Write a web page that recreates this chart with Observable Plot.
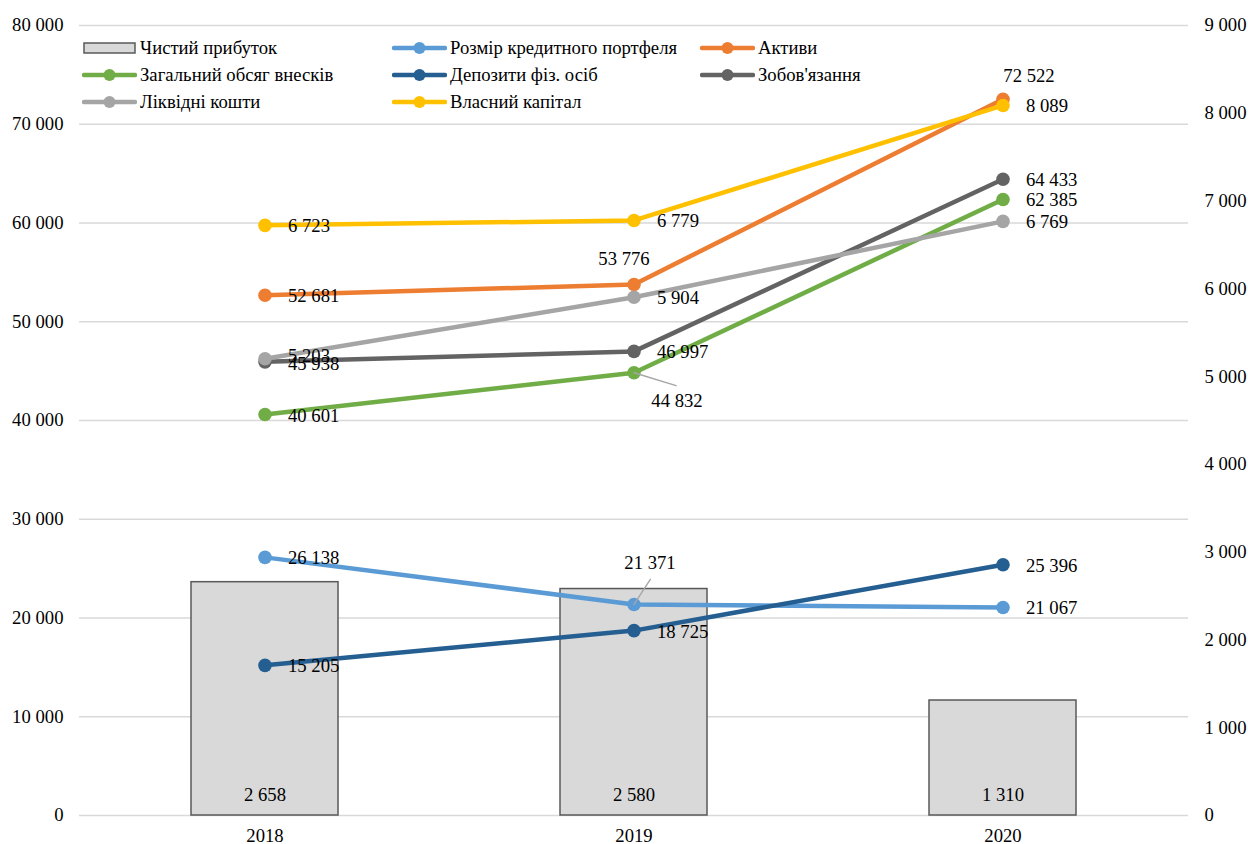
<!DOCTYPE html>
<html><head><meta charset="utf-8">
<script src="https://cdn.jsdelivr.net/npm/d3@7"></script>
<script src="https://cdn.jsdelivr.net/npm/@observablehq/plot@0.6"></script>
<style>
body{margin:0;background:#fff;}
#wrap{position:relative;width:1248px;height:844px;font-family:'Liberation Serif',serif;}
#wrap svg text{font-family:'Liberation Serif',serif;}
.leg{position:absolute;display:flex;align-items:center;height:20px;font-size:18.7px;color:#000;white-space:nowrap;font-family:'Liberation Serif',serif;}
.leg svg{display:block;}
.leg span{margin-left:3px;}
</style></head><body><div id="wrap"></div>
<script>
// ---- data ----
const years = ["2018", "2019", "2020"];
const netProfit = [2658, 2580, 1310];                 // right axis (bars)
const creditPortfolio = [26138, 21371, 21067];        // left axis
const assets = [52681, 53776, 72522];                 // left axis
const totalContributions = [40601, 44832, 62385];     // left axis
const individualDeposits = [15205, 18725, 25396];     // left axis
const liabilities = [45938, 46997, 64433];            // left axis
const liquidFunds = [5203, 5904, 6769];               // right axis
const equity = [6723, 6779, 8089];                    // right axis
const leftTicks = [0, 10000, 20000, 30000, 40000, 50000, 60000, 70000, 80000];
const rightTicks = [0, 1000, 2000, 3000, 4000, 5000, 6000, 7000, 8000, 9000];

// ---- series config ----
const barName = "Чистий прибуток";
const series = [
  {name: "Розмір кредитного портфеля", values: creditPortfolio, color: "#5B9BD5", axis: "left"},
  {name: "Активи", values: assets, color: "#ED7D31", axis: "left"},
  {name: "Загальний обсяг внесків", values: totalContributions, color: "#70AD47", axis: "left"},
  {name: "Депозити фіз. осіб", values: individualDeposits, color: "#255E91", axis: "left"},
  {name: "Зобов'язання", values: liabilities, color: "#636363", axis: "left"},
  {name: "Ліквідні кошти", values: liquidFunds, color: "#A5A5A5", axis: "right"},
  {name: "Власний капітал", values: equity, color: "#FFC000", axis: "right"}
];
const legendOrder = [barName, "Розмір кредитного портфеля", "Активи", "Загальний обсяг внесків",
  "Депозити фіз. осіб", "Зобов'язання", "Ліквідні кошти", "Власний капітал"];

const K = 80000 / 9000; // right axis -> left axis
const fmt = d3.formatLocale({thousands: " ", grouping: [3], decimal: ",", currency: ["", ""]}).format(",d");
const FONT = "'Liberation Serif', serif";
const FS = 18.7;

// label placement (style only)
const place = {
  "Активи|2019": {dx: -10, dy: -25, anchor: "middle"},
  "Активи|2020": {dx: 26, dy: -23, anchor: "middle"},
  "Загальний обсяг внесків|2019": {dx: 43, dy: 28, anchor: "middle"},
  "Розмір кредитного портфеля|2019": {dx: 16, dy: -41, anchor: "middle"},
  "Ліквідні кошти|2018": {dx: 23, dy: -3, anchor: "start"},
  "Зобов'язання|2018": {dx: 23, dy: 2, anchor: "start"}
};
const leaders = [
  {name: "Загальний обсяг внесків", year: "2019", length: 44, rotate: 107},
  {name: "Розмір кредитного портфеля", year: "2019", length: 30, rotate: 33}
];

const rows = series.map(s => s.values.map((v, i) => ({
  name: s.name, year: years[i], value: v, yv: s.axis === "right" ? v * K : v
})));
const barRows = netProfit.map((v, i) => ({year: years[i], value: v, yv: v * K}));
const flat = rows.flat();

const marks = [
  Plot.gridY(leftTicks, {stroke: "#d9d9d9", strokeOpacity: 1, strokeWidth: 1.5}),
  Plot.barY(barRows, {x: "year", y: "yv", fill: "#d9d9d9", stroke: "#595959", strokeWidth: 1.5, insetLeft: 111, insetRight: 111}),
];
series.forEach((s, si) => {
  marks.push(Plot.line(rows[si], {x: "year", y: "yv", stroke: s.color, strokeWidth: 4.5, strokeLinejoin: "round", strokeLinecap: "round"}));
  marks.push(Plot.dot(rows[si], {x: "year", y: "yv", r: 6.8, fill: s.color, stroke: s.color, strokeWidth: 0}));
});
// leader lines
leaders.forEach(l => {
  const d = flat.filter(r => r.name === l.name && r.year === l.year);
  marks.push(Plot.vector(d, {x: "year", y: "yv", length: l.length, rotate: l.rotate, anchor: "start", r: 0, stroke: "#a6a6a6", strokeWidth: 1.4}));
});
// data labels
flat.forEach(r => {
  const p = place[r.name + "|" + r.year] || {dx: 23, dy: 1, anchor: "start"};
  marks.push(Plot.text([r], {x: "year", y: "yv", text: d => fmt(d.value), dx: p.dx, dy: p.dy, textAnchor: p.anchor, fill: "#000", fontFamily: FONT, fontSize: FS}));
});
marks.push(Plot.text(barRows, {x: "year", y: 0, text: d => fmt(d.value), dy: -20, fill: "#000", fontFamily: FONT, fontSize: FS}));
// axes
marks.push(Plot.axisY(leftTicks, {anchor: "left", tickSize: 0, tickPadding: 16, tickFormat: fmt, label: null, fill: "#000", fontFamily: FONT, fontSize: FS}));
marks.push(Plot.axisY(rightTicks.map(v => v * K), {anchor: "right", tickSize: 0, tickPadding: 16, tickFormat: d => fmt(Math.round(d / K)), label: null, fill: "#000", fontFamily: FONT, fontSize: FS}));
marks.push(Plot.axisX({tickSize: 0, tickPadding: 13, label: null, fill: "#000", fontFamily: FONT, fontSize: FS}));

const chart = Plot.plot({
  width: 1248,
  height: 844,
  marginLeft: 79,
  marginRight: 60,
  marginTop: 25,
  marginBottom: 29,
  style: "font-family: 'Liberation Serif', serif; font-size: 18.7px; background: #fff; overflow: visible; color: #000;",
  x: {type: "band", domain: years, padding: 0},
  y: {domain: [0, 80000]},
  marks
});
const wrap = document.getElementById("wrap");
wrap.appendChild(chart);

// ---- legend overlay ----
const colX = [82, 392, 700];
const rowY = [48, 75, 102];
const colorOf = Object.fromEntries(series.map(s => [s.name, s.color]));
legendOrder.forEach((name, i) => {
  const div = document.createElement("div");
  div.className = "leg";
  div.style.left = colX[i % 3] + "px";
  div.style.top = (rowY[Math.floor(i / 3)] - 10) + "px";
  let sw;
  if (name === barName) {
    sw = `<svg width="55" height="20"><rect x="2" y="5" width="51" height="10" fill="#d9d9d9" stroke="#595959" stroke-width="1.5"/></svg>`;
  } else {
    const c = colorOf[name];
    sw = `<svg width="55" height="20"><line x1="2" y1="10" x2="53" y2="10" stroke="${c}" stroke-width="4.5" stroke-linecap="round"/><circle cx="27.5" cy="10" r="6" fill="${c}"/></svg>`;
  }
  div.innerHTML = sw + `<span>${name}</span>`;
  wrap.appendChild(div);
});
</script>
</body></html>
